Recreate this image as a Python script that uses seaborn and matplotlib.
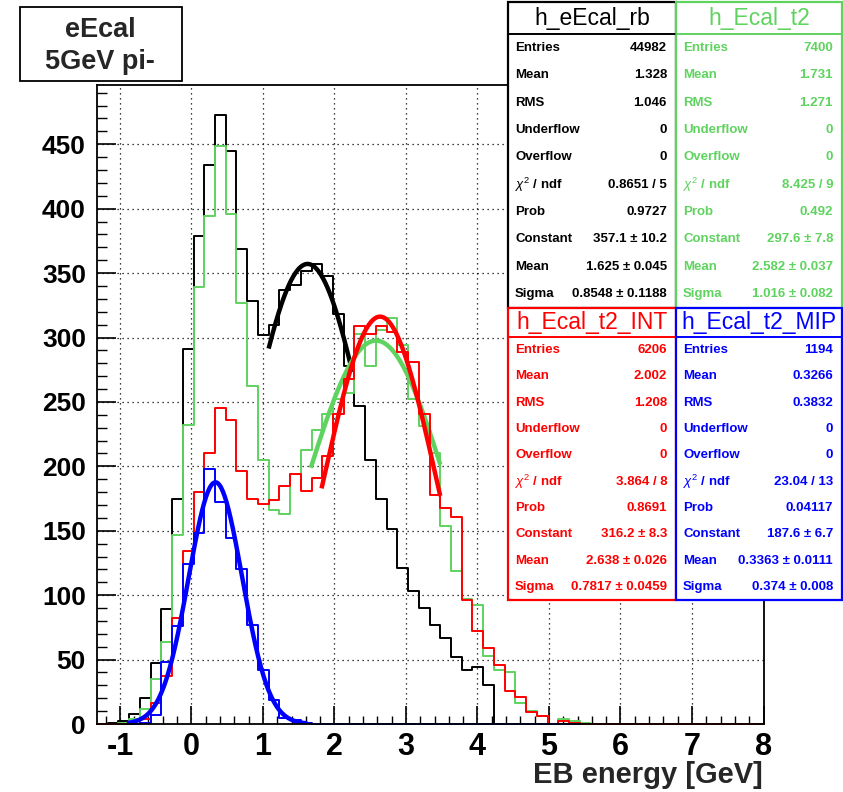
import numpy as np
import pandas as pd
import matplotlib
matplotlib.use("Agg")
import matplotlib.pyplot as plt
from matplotlib.patches import Rectangle
from matplotlib.lines import Line2D
import seaborn as sns

# ---- data: bin contents, 0.15 GeV bins starting at -1.32 GeV ----
bin_low = -1.32
bin_width = 0.15
n_bins = 62

h_eEcal_rb = [0, 1, 2, 8, 20, 47, 89, 175, 291, 379, 434, 473, 445, 369, 328,
              302, 310, 337, 341, 352, 357, 348, 318, 278, 247, 205, 175, 151,
              121, 103, 90, 77, 67, 52, 42, 44, 30] + [0] * 25
h_Ecal_t2 = [0, 0, 1, 4, 12, 35, 64, 147, 232, 339, 394, 449, 396, 327, 262,
             205, 166, 163, 194, 213, 228, 241, 252, 257, 303, 278, 306, 315,
             294, 252, 231, 210, 154, 119, 97, 92, 53, 42, 40, 16, 10, 6, 0,
             4, 2, 1] + [0] * 16
h_Ecal_t2_INT = [0, 0, 0, 0, 4, 16, 37, 82, 134, 180, 210, 245, 236, 196, 175,
                 171, 174, 185, 194, 181, 191, 208, 241, 268, 309, 303, 309,
                 304, 289, 281, 241, 178, 168, 161, 96, 72, 59, 46, 26, 21, 9,
                 6, 0, 2, 1] + [0] * 17
h_Ecal_t2_MIP = [0, 0, 0, 0, 1, 7, 48, 76, 124, 148, 198, 172, 144, 120, 77,
                 42, 19, 5, 3, 1] + [0] * 42

# Gaussian fit results (constant, mean, sigma) and fit ranges
fit_rb = (357.1, 1.625, 0.8548)
fit_t2 = (297.6, 2.582, 1.016)
fit_int = (316.2, 2.638, 0.7817)
fit_mip = (187.6, 0.3363, 0.374)
range_rb = (1.08, 2.25)
range_t2 = (1.67, 3.48)
range_int = (1.82, 3.48)
range_mip = (-0.90, 1.62)

# statistics box contents
stats = {
    "h_eEcal_rb": ["44982", "1.328", "1.046", "0", "0", "0.8651 / 5", "0.9727",
                   "357.1 ± 10.2", "1.625 ± 0.045", "0.8548 ± 0.1188"],
    "h_Ecal_t2": ["7400", "1.731", "1.271", "0", "0", "8.425 / 9", "0.492",
                  "297.6 ± 7.8", "2.582 ± 0.037", "1.016 ± 0.082"],
    "h_Ecal_t2_INT": ["6206", "2.002", "1.208", "0", "0", "3.864 / 8", "0.8691",
                      "316.2 ± 8.3", "2.638 ± 0.026", "0.7817 ± 0.0459"],
    "h_Ecal_t2_MIP": ["1194", "0.3266", "0.3832", "0", "0", "23.04 / 13",
                      "0.04117", "187.6 ± 6.7", "0.3363 ± 0.0111", "0.374 ± 0.008"],
}
row_labels = ["Entries", "Mean", "RMS", "Underflow", "Overflow",
              r"$\chi^{2}$ / ndf", "Prob", "Constant", "Mean", "Sigma"]

BLACK = "#000000"
GREEN = "#5fd35f"
RED = "#ff0000"
BLUE = "#0000ff"

sns.set_style("white")
plt.rcParams["font.family"] = ["Liberation Sans", "DejaVu Sans"]
plt.rcParams["axes.unicode_minus"] = False
plt.rcParams["mathtext.fontset"] = "custom"
plt.rcParams["mathtext.it"] = "Liberation Sans:italic"
plt.rcParams["mathtext.rm"] = "Liberation Sans"

W, H = 843, 792
fig = plt.figure(figsize=(W / 100, H / 100), dpi=100)


def fx(x):
    return x / W


def fy(y):
    return 1 - y / H


ax = fig.add_axes([fx(97), fy(724), fx(763.5) - fx(97), fy(85) - fy(724)])

edges = np.round(bin_low + bin_width * np.arange(n_bins + 1), 3)
centers = np.round(edges[:-1] + bin_width / 2, 3)


def draw_hist(counts, color, lo=0, hi=n_bins):
    df = pd.DataFrame({"energy": centers[lo:hi],
                       "count": np.asarray(counts, float)[lo:hi]})
    sns.histplot(data=df, x="energy", weights="count",
                 binwidth=bin_width, binrange=(edges[lo], edges[hi]),
                 element="step", fill=False, color=color, linewidth=1.4,
                 ax=ax, clip_on=False)


def draw_fit(par, rng, color):
    const, mean, sigma = par
    xs = np.linspace(rng[0], rng[1], 200)
    ys = const * np.exp(-0.5 * ((xs - mean) / sigma) ** 2)
    sns.lineplot(x=xs, y=ys, color=color, linewidth=3.2, ax=ax,
                 solid_capstyle="butt", sort=False)


draw_hist(h_eEcal_rb, BLACK)
draw_fit(fit_rb, range_rb, BLACK)
draw_hist(h_Ecal_t2, GREEN)
draw_fit(fit_t2, range_t2, GREEN)
draw_hist(h_Ecal_t2_INT, RED)
draw_fit(fit_int, range_int, RED)
draw_hist(h_Ecal_t2_MIP, BLUE, lo=3, hi=45)
draw_fit(fit_mip, range_mip, BLUE)

ax.set_xlim(edges[0], edges[-1])
ax.set_ylim(0, 496)
ax.set_xticks(np.arange(-1, 9, 1))
ax.set_xticks(np.arange(-1.2, 8.0, 0.2), minor=True)
ax.set_yticks(np.arange(0, 451, 50))
ax.set_yticks(np.arange(0, 491, 10), minor=True)
ax.tick_params(axis="both", which="both", direction="in",
               top=False, right=False, bottom=True, left=True, colors="black")
ax.tick_params(axis="y", which="major", length=14, width=1.2, pad=8,
               labelsize=19)
ax.tick_params(axis="y", which="minor", length=7, width=1.0)
ax.tick_params(axis="x", which="major", length=13, width=1.2, pad=6,
               labelsize=22)
ax.tick_params(axis="x", which="minor", length=6, width=1.0)
for lab in ax.get_xticklabels() + ax.get_yticklabels():
    lab.set_fontweight("bold")
ax.grid(True, which="major", color="black", linestyle=(0, (1, 3)),
        linewidth=0.9)
for sp in ax.spines.values():
    sp.set_color("black")
    sp.set_linewidth(1.3)
ax.set_xlabel("")
ax.set_ylabel("")
fig.text(fx(763), fy(775), "EB energy [GeV]", ha="right", va="center",
         fontsize=21, fontweight="bold")

# title box in the upper left corner
fig.patches.append(Rectangle((fx(20), fy(81)), fx(182) - fx(20),
                             fy(7) - fy(81), transform=fig.transFigure,
                             facecolor="white", edgecolor="black", lw=1.3))
fig.text(fx(100), fy(30), "eEcal", ha="center", va="center", fontsize=19.5,
         fontweight="bold")
fig.text(fx(100), fy(62), "5GeV pi-", ha="center", va="center",
         fontsize=19.5, fontweight="bold")


def stats_box(name, x0, x1, y0, y1, ysep, color):
    fig.patches.append(Rectangle((fx(x0), fy(y1)), fx(x1) - fx(x0),
                                 fy(y0) - fy(y1), transform=fig.transFigure,
                                 facecolor="white", edgecolor=color, lw=1.6,
                                 zorder=5))
    fig.lines.append(Line2D([fx(x0), fx(x1)], [fy(ysep), fy(ysep)],
                            transform=fig.transFigure, color=color, lw=1.4,
                            zorder=6))
    fig.text(fx((x0 + x1) / 2), fy((y0 + ysep) / 2), name, ha="center",
             va="center", fontsize=16.5, color=color, zorder=7)
    step = (y1 - ysep) / len(row_labels)
    for i, (lab, val) in enumerate(zip(row_labels, stats[name])):
        yy = ysep + step * (i + 0.5)
        fig.text(fx(x0 + 7), fy(yy), lab, ha="left", va="center",
                 fontsize=9.5, fontweight="bold", color=color, zorder=7)
        fig.text(fx(x1 - 9), fy(yy), val, ha="right", va="center",
                 fontsize=9.5, fontweight="bold", color=color, zorder=7)


stats_box("h_eEcal_rb", 508, 676, 2, 308, 34, BLACK)
stats_box("h_Ecal_t2", 676, 842, 2, 308, 34, GREEN)
stats_box("h_Ecal_t2_INT", 508, 676, 308, 600, 337, RED)
stats_box("h_Ecal_t2_MIP", 676, 842, 308, 600, 337, BLUE)

fig.savefig("out.png", dpi=100, facecolor="white")
